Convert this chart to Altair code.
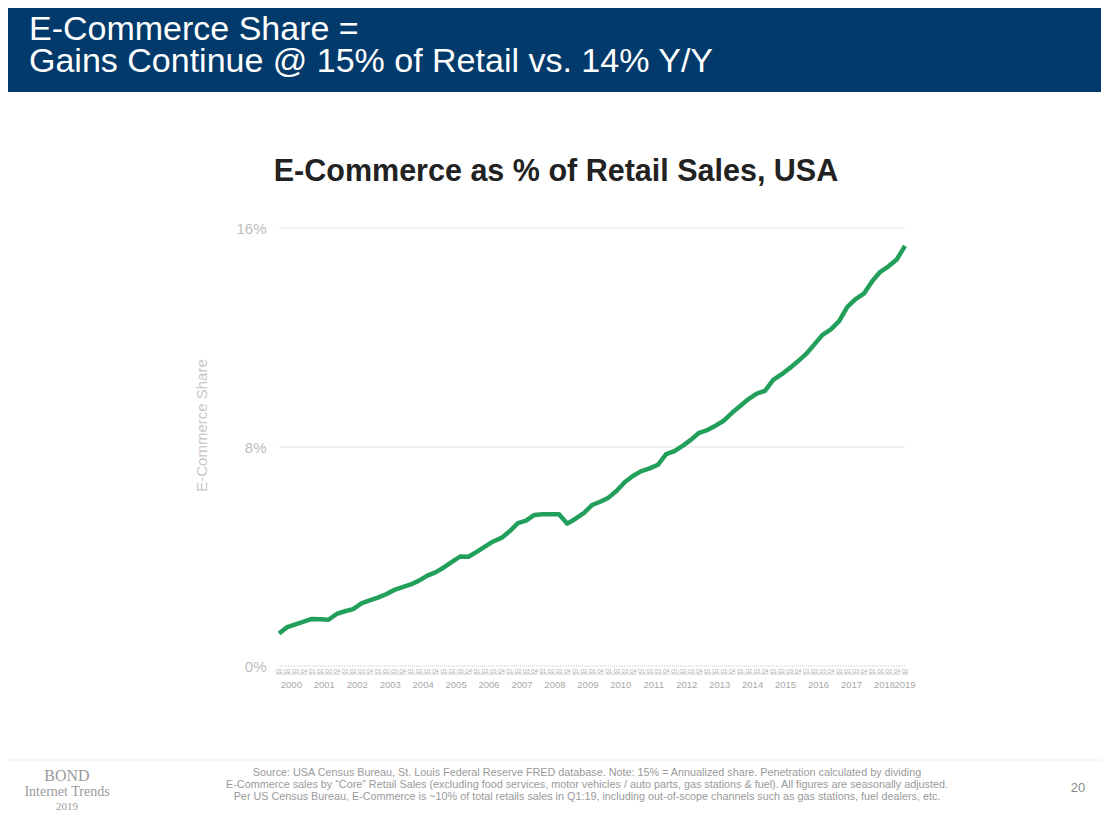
import altair as alt
import pandas as pd

# quarterly e-commerce share of core retail, 2000 Q1 .. 2019 Q1
share = [
    1.19, 1.42, 1.52, 1.62,   # 2000
    1.72, 1.71, 1.69, 1.90,   # 2001
    2.00, 2.08, 2.29, 2.40,   # 2002
    2.50, 2.62, 2.78, 2.88,   # 2003
    2.98, 3.12, 3.30, 3.42,   # 2004
    3.60, 3.80, 4.00, 3.99,   # 2005
    4.17, 4.36, 4.55, 4.68,   # 2006
    4.92, 5.22, 5.31, 5.52,   # 2007
    5.54, 5.54, 5.54, 5.20,   # 2008
    5.38, 5.58, 5.88, 6.00,   # 2009
    6.15, 6.40, 6.72, 6.95,   # 2010
    7.12, 7.22, 7.35, 7.74,   # 2011
    7.85, 8.04, 8.26, 8.52,   # 2012
    8.62, 8.78, 8.96, 9.25,   # 2013
    9.50, 9.75, 9.95, 10.05,  # 2014
    10.45, 10.65, 10.88, 11.13,  # 2015
    11.40, 11.75, 12.10, 12.30,  # 2016
    12.60, 13.12, 13.40, 13.60,  # 2017
    14.05, 14.40, 14.60, 14.85,  # 2018
    15.35,                       # 2019
]
years = list(range(2000, 2020))
quarter_names = ["Q1", "Q2", "Q3", "Q4"]
y_ticks = [0, 8, 16]
gridlines = [8, 16]

header = ["E-Commerce Share =", "Gains Continue @ 15% of Retail vs. 14% Y/Y"]
chart_title = "E-Commerce as % of Retail Sales, USA"
y_title = "E-Commerce Share"
source_note = [
    "Source: USA Census Bureau, St. Louis Federal Reserve FRED database.  Note: 15% = Annualized share.  Penetration calculated by dividing",
    "E-Commerce sales by \u201cCore\u201d Retail Sales (excluding food services, motor vehicles / auto parts, gas stations & fuel). All figures are seasonally adjusted.",
    "Per US Census Bureau, E-Commerce is ~10% of total retails sales in Q1:19, including out-of-scope channels such as gas stations, fuel dealers, etc.",
]
brand = ["BOND", "Internet Trends", "2019"]
page_no = "20"

# tables built from the lists above
rows = []
for i, v in enumerate(share):
    rows.append({"i": i, "year": years[i // 4], "q": quarter_names[i % 4], "share": v})
df = pd.DataFrame(rows)

yr = df.groupby("year")["i"].agg(["min", "max"]).reset_index()
yr["mid"] = (yr["min"] + yr["max"]) / 2
yr["lo"] = yr["min"] - 0.4
yr["hi"] = yr["max"] + 0.4

W, H = 626, 438
FONT = "Liberation Sans"
SERIF = "Liberation Serif"
GREY = "#9a9a9a"
x_scale = alt.Scale(domain=[0, len(share) - 1], nice=False, zero=False)
y_scale = alt.Scale(domain=[0, 16], nice=False)

one = pd.DataFrame({"k": [0]})

line = alt.Chart(df).mark_line(color="#22a05b", strokeWidth=4.5, strokeJoin="round").encode(
    x=alt.X("i:Q", scale=x_scale, axis=None),
    y=alt.Y("share:Q", scale=y_scale,
            axis=alt.Axis(values=y_ticks, labelExpr="datum.value + '%'", grid=False,
                          domain=False, ticks=False, labelFontSize=15, labelColor="#bdbdbd",
                          labelFont=FONT, labelPadding=13, title=y_title, titleFont=FONT,
                          titleFontSize=15, titleFontWeight="normal", titleColor="#c8c8c8",
                          titleX=-70, titleY=197)),
)

grid = alt.Chart(pd.DataFrame({"g": gridlines})).mark_rule(color="#e2e2e2", strokeWidth=1).encode(
    y=alt.Y("g:Q", scale=y_scale),
)

baseline = alt.Chart(one).mark_rule(color="#c9c9c9", strokeWidth=1, strokeDash=[1, 1]).encode(
    y=alt.datum(0, scale=y_scale),
)

# quarter labels, year underlines and year labels stand in for the x axis
q_text = alt.Chart(df).mark_text(fontSize=5, color="#a8a8a8", font=FONT, baseline="middle").encode(
    x=alt.X("i:Q", scale=x_scale),
    y=alt.value(H + 5),
    text="q:N",
)

yr_rule = alt.Chart(yr).mark_rule(color="#c9c9c9", strokeWidth=1).encode(
    x=alt.X("lo:Q", scale=x_scale),
    x2="hi:Q",
    y=alt.value(H + 8),
)

yr_text = alt.Chart(yr).mark_text(fontSize=9.5, color="#a8a8a8", font=FONT, baseline="middle").encode(
    x=alt.X("mid:Q", scale=x_scale),
    y=alt.value(H + 19),
    text="year:O",
)

# slide decoration
band = alt.Chart(one).mark_rect(color="#023a6b").encode(
    x=alt.value(-271), x2=alt.value(822), y=alt.value(-220), y2=alt.value(-136),
)

head = alt.Chart(one).mark_text(text=header, font=FONT, fontSize=34, color="white",
                                align="left", baseline="alphabetic", lineHeight=32).encode(
    x=alt.value(-250), y=alt.value(-188),
)

title = alt.Chart(one).mark_text(text=chart_title, font=FONT, fontSize=30.5, fontWeight="bold",
                                 color="#222222", align="center", baseline="alphabetic").encode(
    x=alt.value(277), y=alt.value(-47),
)

sep = alt.Chart(one).mark_rule(color="#ececec", strokeWidth=1).encode(
    x=alt.value(-271), x2=alt.value(822), y=alt.value(532),
)

note = alt.Chart(one).mark_text(text=source_note, font=FONT, fontSize=10.8, color=GREY,
                                align="center", baseline="middle", lineHeight=12).encode(
    x=alt.value(308), y=alt.value(545),
)

bond = alt.Chart(one).mark_text(text=brand[0], font=SERIF, fontSize=16,
                                color=GREY, align="center", baseline="alphabetic").encode(
    x=alt.value(-212), y=alt.value(553),
)
trends = alt.Chart(one).mark_text(text=brand[1], font=SERIF, fontSize=14,
                                  color=GREY, align="center", baseline="alphabetic").encode(
    x=alt.value(-212), y=alt.value(568),
)
year_tag = alt.Chart(one).mark_text(text=brand[2], font=SERIF, fontSize=11,
                                    color=GREY, align="center", baseline="alphabetic").encode(
    x=alt.value(-212), y=alt.value(582),
)

page = alt.Chart(one).mark_text(text=page_no, font=FONT, fontSize=13, color="#8a8a8a",
                                align="center", baseline="middle").encode(
    x=alt.value(799), y=alt.value(560),
)

chart = alt.layer(
    band, head, title, grid, baseline, line, q_text, yr_rule, yr_text,
    sep, note, bond, trends, year_tag, page,
).properties(
    width=W, height=H,
    padding={"left": 271, "top": 220, "right": 196, "bottom": 145},
    autosize=alt.AutoSizeParams(type="none"),
    background="white",
).configure_view(stroke=None)

chart.save("out.html", embed_options={"renderer": "svg", "actions": False})
